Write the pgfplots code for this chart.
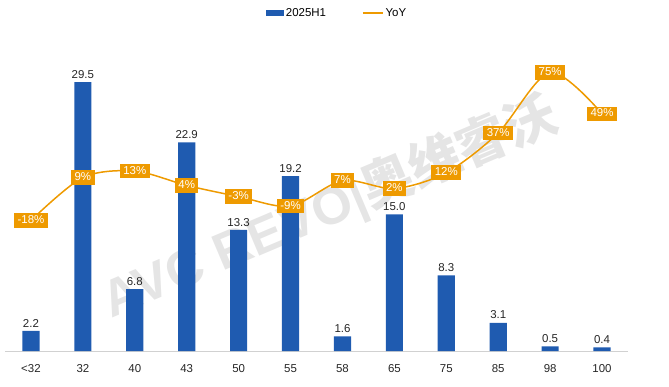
\documentclass[border=0pt]{standalone}
\usepackage{pgfplots}
\pgfplotsset{compat=1.18}
\usepackage{fontspec}
\setmainfont{Liberation Sans}
\newfontfamily\cjk{Noto Sans CJK SC}
\definecolor{barblue}{RGB}{31,91,176}
\definecolor{yoyor}{RGB}{238,154,0}
\begin{document}
\begin{tikzpicture}[x=1bp,y=1bp]
\useasboundingbox (0,0) rectangle (669,386);
\node[rotate=23, text=black!10, font=\bfseries\fontsize{52}{52}\selectfont] at (330,178) {AVC REVO|{\cjk 奥维睿沃}};
\begin{axis}[at={(5bp,35bp)}, anchor=south west, scale only axis,
  width=623bp, height=328bp,
  xmin=-0.5, xmax=11.5, ymin=0, ymax=36,
  axis y line=none, axis x line*=bottom,
  x axis line style={draw=black!18, -, line width=0.8bp},
  xtick={0,...,11},
  xticklabels={<32,32,40,43,50,55,58,65,75,85,98,100},
  major tick length=0pt,
  xticklabel style={font=\fontsize{11.5}{13}\selectfont, text=black!85, yshift=-10bp},
  ybar, bar width=0.33,
  nodes near coords,
  nodes near coords style={font=\fontsize{11.5}{13}\selectfont, text=black!85, inner sep=3.5bp, /pgf/number format/.cd, fixed, fixed zerofill, precision=1},
  /pgf/number format/assume math mode=true,
  legend style={at={(0.533,1.031)}, anchor=center, draw=none, fill=none,
    font=\fontsize{11.5}{13}\selectfont, legend columns=2,
    /tikz/every even column/.append style={column sep=34bp}},
  clip=false,
]
\addplot[fill=barblue, draw=none,
  legend image code/.code={\fill[barblue] (0bp,-3bp) rectangle (18bp,3bp);}]
  coordinates {(0,2.2) (1,29.5) (2,6.8) (3,22.9) (4,13.3) (5,19.2) (6,1.6) (7,15.0) (8,8.3) (9,3.1) (10,0.5) (11,0.4)};
\addlegendentry{2025H1}
\addlegendimage{legend image code/.code={\draw[yoyor, line width=1.5bp] (0bp,0bp) -- (20bp,0bp);}}
\addlegendentry{YoY}
\end{axis}
\begin{axis}[at={(5bp,35bp)}, anchor=south west, scale only axis,
  width=623bp, height=328bp,
  xmin=-0.5, xmax=11.5, ymin=-100, ymax=106,
  hide axis, clip=false,
  point meta=explicit symbolic,
  nodes near coords,
  nodes near coords style={anchor=center, fill=yoyor, text=white,
    font=\fontsize{11.5}{13}\selectfont, inner xsep=3.5bp, inner ysep=1.8bp,
    text height=8.6bp, text depth=2.2bp},
]
\addplot[yoyor, line width=1.5bp, smooth, mark=none]
  coordinates {(0,-18) [-18\%] (1,9) [9\%] (2,13) [13\%] (3,4) [4\%] (4,-3) [-3\%] (5,-9) [-9\%] (6,7) [7\%] (7,2) [2\%] (8,12) [12\%] (9,37) [37\%] (10,75) [75\%] (11,49) [49\%]};
\end{axis}
\end{tikzpicture}
\end{document}
